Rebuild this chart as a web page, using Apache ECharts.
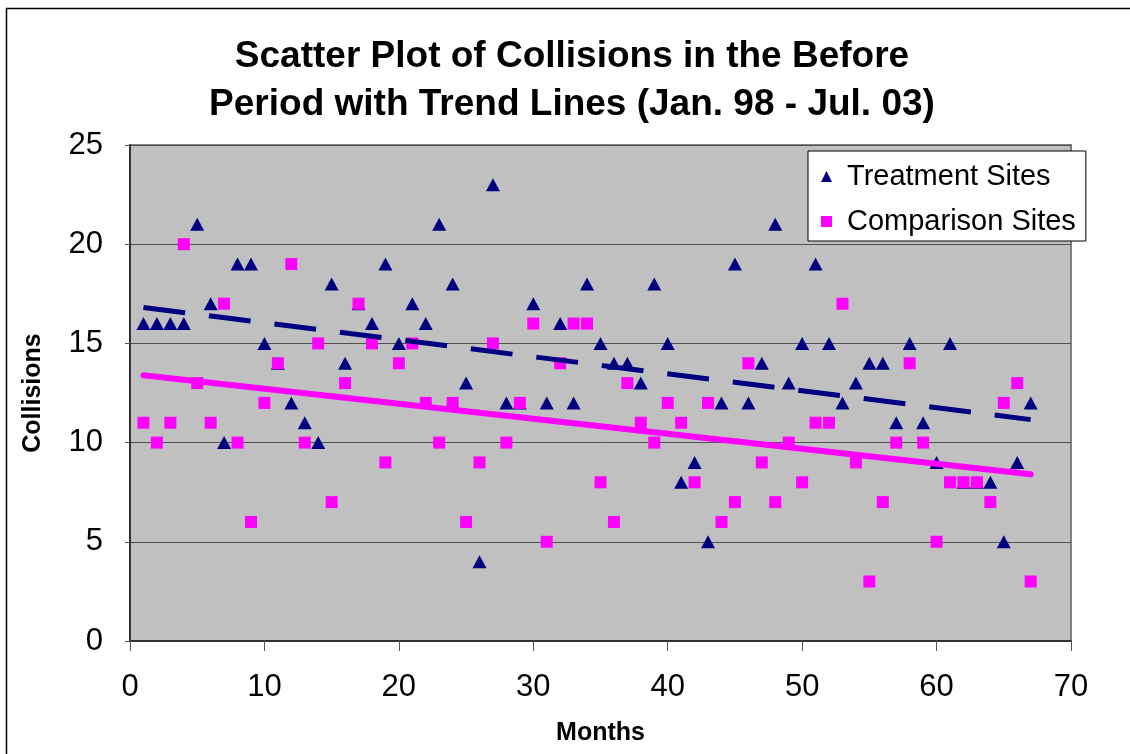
<!DOCTYPE html>
<html>
<head>
<meta charset="utf-8">
<script src="https://cdn.jsdelivr.net/npm/echarts@6/dist/echarts.min.js"></script>
<style>
html,body{margin:0;padding:0;background:#fff;}
#chart{width:1130px;height:754px;}
</style>
</head>
<body>
<div id="chart"></div>
<script>
// Months 1..67
const months = Array.from({length: 67}, (_, i) => i + 1);
const treatmentSites = [16,16,16,16,21,17,10,19,19,15, 14,12,11,10,18,14,17,16,19,15,
  17,16,21,18,13,4,23,12,12,17, 12,16,12,18,15,14,14,13,18,15,
  8,9,5,12,19,12,14,21,13,15, 19,15,12,13,14,14,11,15,11,9,
  15,8,8,8,5,9,12];
const comparisonSites = [11,10,11,20,13,11,17,10,6,12, 14,19,10,15,7,13,17,15,9,14,
  15,12,10,12,6,9,15,10,12,16, 5,14,16,16,8,6,13,11,10,12,
  11,8,12,6,7,14,9,7,10,8, 11,11,17,9,3,7,10,14,10,5,
  8,8,8,7,12,13,3];
const xTicks = [0,10,20,30,40,50,60,70];
const yTicks = [0,5,10,15,20,25];

function pairs(xs, ys){ return xs.map((x,i)=>[x, ys[i]]); }
function trend(xs, ys){
  const n = xs.length;
  const mx = xs.reduce((a,b)=>a+b,0)/n, my = ys.reduce((a,b)=>a+b,0)/n;
  let sxy=0, sxx=0;
  for(let i=0;i<n;i++){ sxy += (xs[i]-mx)*(ys[i]-my); sxx += (xs[i]-mx)*(xs[i]-mx); }
  const b = sxy/sxx, a = my - b*mx;
  const x0 = xs[0], x1 = xs[n-1];
  return [[x0, a+b*x0],[x1, a+b*x1]];
}

const FONT = '"Liberation Sans", Arial, sans-serif';
const chart = echarts.init(document.getElementById('chart'), null, {renderer:'canvas'});
chart.setOption({
  animation: false,
  backgroundColor: '#ffffff',
  textStyle: {fontFamily: FONT},
  graphic: [{
    type: 'rect', silent: true, z: -10,
    shape: {x: 6.5, y: 8.5, width: 1200, height: 800},
    style: {fill: 'none', stroke: '#000', lineWidth: 1.5}
  }],
  title: {
    text: 'Scatter Plot of Collisions in the Before\nPeriod with Trend Lines (Jan. 98 - Jul. 03)',
    left: 567, top: 28, textAlign: 'center',
    textStyle: {fontFamily: FONT, fontSize: 37, fontWeight: 'bold', color: '#000', lineHeight: 48}
  },
  legend: {
    orient: 'vertical',
    left: 808, top: 151,
    padding: [11, 10, 5, 13],
    itemGap: 16,
    itemWidth: 11, itemHeight: 11,
    backgroundColor: '#fff', borderColor: '#000', borderWidth: 1, borderRadius: 0,
    textStyle: {fontFamily: FONT, fontSize: 29, color: '#000', padding: [0, 0, 0, 10]},
    data: [
      {name: 'Treatment Sites', icon: 'triangle', itemStyle: {color: '#000080'}},
      {name: 'Comparison Sites', icon: 'rect', itemStyle: {color: '#ff00ff'}}
    ]
  },
  grid: {left: 130, right: 59, top: 145, bottom: 113, show: true,
    backgroundColor: '#c0c0c0', borderColor: '#808080', borderWidth: 2},
  xAxis: {
    type: 'value', min: 0, max: 70, interval: 10,
    name: 'Months', nameLocation: 'middle', nameGap: 80,
    nameTextStyle: {fontFamily: FONT, fontSize: 25, fontWeight: 'bold', color: '#000'},
    axisLine: {onZero: false, lineStyle: {color: '#333', width: 2}},
    axisTick: {show: true, length: 10, inside: false, lineStyle: {color: '#555', width: 1}},
    axisLabel: {fontFamily: FONT, fontSize: 31, color: '#000', margin: 31,
      formatter: v => xTicks.includes(v) ? String(v) : ''},
    splitLine: {show: false}
  },
  yAxis: {
    type: 'value', min: 0, max: 25, interval: 5,
    name: 'Collisions', nameLocation: 'middle', nameGap: 84, nameRotate: 90,
    nameTextStyle: {fontFamily: FONT, fontSize: 25, fontWeight: 'bold', color: '#000'},
    axisLine: {onZero: false, lineStyle: {color: '#333', width: 2}},
    axisTick: {show: true, length: 5, inside: false, lineStyle: {color: '#555', width: 1}},
    axisLabel: {fontFamily: FONT, fontSize: 31, color: '#000', margin: 27,
      formatter: v => yTicks.includes(v) ? String(v) : ''},
    splitLine: {show: true, lineStyle: {color: '#505050', width: 1}}
  },
  series: [
    {
      name: 'Treatment Sites', type: 'scatter', symbol: 'triangle', symbolSize: [14, 13],
      itemStyle: {color: '#000080', opacity: 1}, z: 2,
      data: pairs(months, treatmentSites)
    },
    {
      name: 'Comparison Sites', type: 'scatter', symbol: 'rect', symbolSize: 12,
      itemStyle: {color: '#ff00ff', opacity: 1}, z: 3,
      data: pairs(months, comparisonSites)
    },
    {
      name: 'Treatment Trend', type: 'line', showSymbol: false, symbol: 'none', z: 4,
      lineStyle: {color: '#000080', width: 5, type: [42, 24], cap: 'butt'},
      data: trend(months, treatmentSites), silent: true
    },
    {
      name: 'Comparison Trend', type: 'line', showSymbol: false, symbol: 'none', z: 4,
      lineStyle: {color: '#ff00ff', width: 6, type: 'solid', cap: 'round'},
      data: trend(months, comparisonSites), silent: true
    }
  ]
});
</script>
</body>
</html>
